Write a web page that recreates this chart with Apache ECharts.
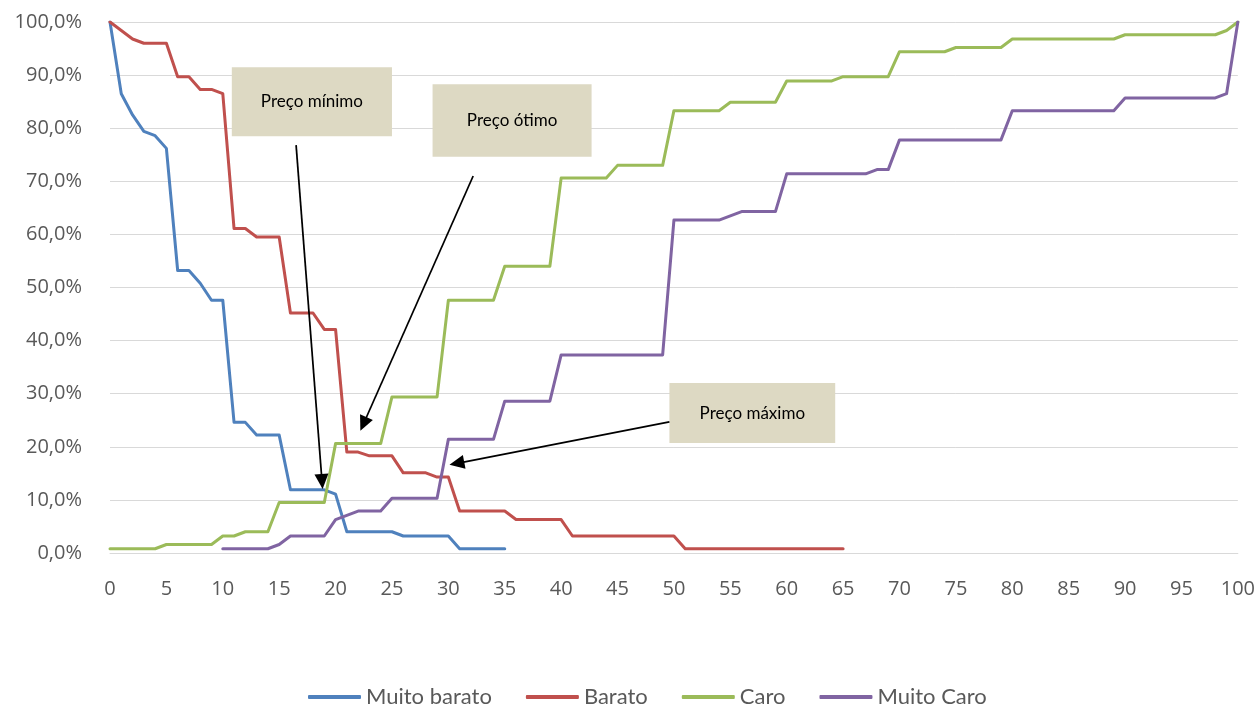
<!DOCTYPE html>
<html>
<head>
<meta charset="utf-8">
<script src="https://cdn.jsdelivr.net/npm/echarts@6/dist/echarts.min.js"></script>
<style>
  html, body { margin: 0; padding: 0; background: #ffffff; }
  #chart { width: 1258px; height: 705px; }
</style>
</head>
<body>
<div id="chart"></div>
<script>
// Cumulative share of respondents (%) per price point, Van Westendorp curves.
// Index = price; null = no answer at that price.
const seriesNames = ['Muito barato', 'Barato', 'Caro', 'Muito Caro'];

const muitoBarato = [
  100, 86.5, 82.5, 79.4, 78.6, 76.2, 53.2, 53.2, 50.8, 47.6,
  47.6, 24.6, 24.6, 22.2, 22.2, 22.2, 11.9, 11.9, 11.9, 11.9,
  11.1, 4.0, 4.0, 4.0, 4.0, 4.0, 3.2, 3.2, 3.2, 3.2,
  3.2, 0.8, 0.8, 0.8, 0.8, 0.8
];

const barato = [
  100, 98.4, 96.8, 96.0, 96.0, 96.0, 89.7, 89.7, 87.3, 87.3,
  86.5, 61.1, 61.1, 59.5, 59.5, 59.5, 45.2, 45.2, 45.2, 42.1,
  42.1, 19.0, 19.0, 18.3, 18.3, 18.3, 15.1, 15.1, 15.1, 14.3,
  14.3, 7.9, 7.9, 7.9, 7.9, 7.9, 6.3, 6.3, 6.3, 6.3,
  6.3, 3.2, 3.2, 3.2, 3.2, 3.2, 3.2, 3.2, 3.2, 3.2,
  3.2, 0.8, 0.8, 0.8, 0.8, 0.8, 0.8, 0.8, 0.8, 0.8,
  0.8, 0.8, 0.8, 0.8, 0.8, 0.8
];

const caro = [
  0.8, 0.8, 0.8, 0.8, 0.8, 1.6, 1.6, 1.6, 1.6, 1.6,
  3.2, 3.2, 4.0, 4.0, 4.0, 9.5, 9.5, 9.5, 9.5, 9.5,
  20.6, 20.6, 20.6, 20.6, 20.6, 29.4, 29.4, 29.4, 29.4, 29.4,
  47.6, 47.6, 47.6, 47.6, 47.6, 54.0, 54.0, 54.0, 54.0, 54.0,
  70.6, 70.6, 70.6, 70.6, 70.6, 73.0, 73.0, 73.0, 73.0, 73.0,
  83.3, 83.3, 83.3, 83.3, 83.3, 84.9, 84.9, 84.9, 84.9, 84.9,
  88.9, 88.9, 88.9, 88.9, 88.9, 89.7, 89.7, 89.7, 89.7, 89.7,
  94.4, 94.4, 94.4, 94.4, 94.4, 95.2, 95.2, 95.2, 95.2, 95.2,
  96.8, 96.8, 96.8, 96.8, 96.8, 96.8, 96.8, 96.8, 96.8, 96.8,
  97.6, 97.6, 97.6, 97.6, 97.6, 97.6, 97.6, 97.6, 97.6, 98.4,
  100
];

const muitoCaro = [
  null, null, null, null, null, null, null, null, null, null,
  0.8, 0.8, 0.8, 0.8, 0.8, 1.6, 3.2, 3.2, 3.2, 3.2,
  6.3, 7.1, 7.9, 7.9, 7.9, 10.3, 10.3, 10.3, 10.3, 10.3,
  21.4, 21.4, 21.4, 21.4, 21.4, 28.6, 28.6, 28.6, 28.6, 28.6,
  37.3, 37.3, 37.3, 37.3, 37.3, 37.3, 37.3, 37.3, 37.3, 37.3,
  62.7, 62.7, 62.7, 62.7, 62.7, 63.5, 64.3, 64.3, 64.3, 64.3,
  71.4, 71.4, 71.4, 71.4, 71.4, 71.4, 71.4, 71.4, 72.2, 72.2,
  77.8, 77.8, 77.8, 77.8, 77.8, 77.8, 77.8, 77.8, 77.8, 77.8,
  83.3, 83.3, 83.3, 83.3, 83.3, 83.3, 83.3, 83.3, 83.3, 83.3,
  85.7, 85.7, 85.7, 85.7, 85.7, 85.7, 85.7, 85.7, 85.7, 86.5,
  100
];

const noteTexts = ['Preço mínimo', 'Preço ótimo', 'Preço máximo'];

// Callout layout in axis units: box corners, arrow start and arrow tip.
const noteLayout = [
  { box: [10.8, 91.5, 25.0, 78.5], from: [16.5, 76.8], to: [18.85, 12.05] },
  { box: [28.6, 88.3, 42.7, 74.6], from: [32.2, 71.0], to: [22.2, 23.0] },
  { box: [49.6, 32.0, 64.3, 20.7], from: [49.6, 24.7], to: [30.1, 16.6] }
];

const colors = ['#4F81BD', '#C0504D', '#9BBB59', '#8064A2'];
const allValues = [muitoBarato, barato, caro, muitoCaro];

const axisFont = '"Open Sans", "DejaVu Sans", sans-serif';
const legendFont = 'Lato, "Open Sans", sans-serif';

function toPairs(values) {
  const out = [];
  values.forEach((v, i) => { if (v !== null) out.push([i, v]); });
  return out;
}

const chart = echarts.init(document.getElementById('chart'), null, { renderer: 'canvas' });

chart.setOption({
  animation: false,
  backgroundColor: '#ffffff',
  color: colors,
  grid: { left: 110, right: 18, top: 22, bottom: 152, containLabel: false },
  legend: {
    data: seriesNames,
    left: 303,
    top: 681,
    icon: 'roundRect',
    itemWidth: 53,
    itemHeight: 4,
    itemGap: 34,
    textStyle: { fontFamily: legendFont, fontSize: 22, color: '#595959' }
  },
  xAxis: {
    type: 'value',
    min: 0,
    max: 100,
    interval: 5,
    axisLine: { show: true, lineStyle: { color: '#D9D9D9', width: 1 } },
    axisTick: { show: false },
    splitLine: { show: false },
    axisLabel: { margin: 26, color: '#595959', fontFamily: axisFont, fontSize: 20 }
  },
  yAxis: {
    type: 'value',
    min: 0,
    max: 100,
    interval: 10,
    axisLine: { show: false },
    axisTick: { show: false },
    splitLine: { show: true, lineStyle: { color: '#D9D9D9', width: 1 } },
    axisLabel: {
      margin: 28,
      color: '#595959',
      fontFamily: axisFont,
      fontSize: 20,
      formatter: v => v.toFixed(1).replace('.', ',') + '%'
    }
  },
  series: seriesNames.map((name, k) => ({
    name,
    type: 'line',
    data: toPairs(allValues[k]),
    symbol: 'none',
    connectNulls: false,
    lineStyle: { width: 3, color: colors[k], join: 'round', cap: 'round' },
    itemStyle: { color: colors[k] },
    z: 2 + k
  }))
});

// Callout boxes and arrows, placed through the grid's coordinate system.
function buildNotes() {
  const els = [];
  const px = p => chart.convertToPixel({ gridIndex: 0 }, p);
  noteLayout.forEach((n, i) => {
    const a = px([n.box[0], n.box[1]]);
    const b = px([n.box[2], n.box[3]]);
    els.push({
      type: 'rect', z: 100,
      shape: { x: a[0], y: a[1], width: b[0] - a[0], height: b[1] - a[1] },
      style: { fill: '#DDD9C3' }
    });
    els.push({
      type: 'text', z: 101,
      style: {
        text: noteTexts[i],
        x: (a[0] + b[0]) / 2, y: (a[1] + b[1]) / 2,
        align: 'center', verticalAlign: 'middle',
        font: '17px Lato, "Open Sans", sans-serif', fill: '#000000'
      }
    });
    const s = px(n.from), t = px(n.to);
    const dx = t[0] - s[0], dy = t[1] - s[1];
    const len = Math.sqrt(dx * dx + dy * dy);
    const ux = dx / len, uy = dy / len;
    const headLen = 15, headHalf = 7;
    const bx = t[0] - ux * headLen, by = t[1] - uy * headLen;
    els.push({
      type: 'line', z: 100,
      shape: { x1: s[0], y1: s[1], x2: bx + ux * 2, y2: by + uy * 2 },
      style: { stroke: '#000000', lineWidth: 1.75 }
    });
    els.push({
      type: 'polygon', z: 100,
      shape: { points: [[t[0], t[1]], [bx - uy * headHalf, by + ux * headHalf], [bx + uy * headHalf, by - ux * headHalf]] },
      style: { fill: '#000000' }
    });
  });
  chart.setOption({ graphic: { elements: els } });
}
buildNotes();
</script>
</body>
</html>
